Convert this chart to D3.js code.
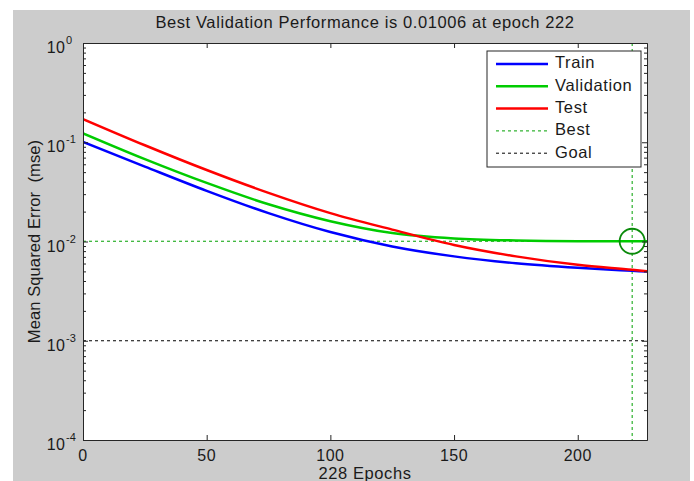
<!DOCTYPE html>
<html>
<head>
<meta charset="utf-8">
<script src="https://cdn.jsdelivr.net/npm/d3@7"></script>
<style>
  html, body { margin: 0; padding: 0; background: #fff; }
  svg { display: block; font-family: "Liberation Sans", Arial, Helvetica, sans-serif; }
</style>
</head>
<body>
<div id="chart"></div>
<script>
// ── Data ───────────────────────────────────────────────────────
const epochs     = [0, 25, 50, 75, 100, 125, 150, 175, 200, 222, 228];
const train      = [0.1009, 0.0569, 0.0324, 0.0193, 0.01245, 0.00891, 0.00708, 0.00603, 0.00543, 0.00507, 0.00498];
const validation = [0.123, 0.0676, 0.0389, 0.0237, 0.0160, 0.01216, 0.01072, 0.01023, 0.01007, 0.01006, 0.01007];
const test       = [0.1714, 0.0933, 0.0525, 0.0309, 0.0193, 0.01318, 0.00923, 0.00708, 0.00582, 0.00518, 0.00501];

const bestEpoch = 222;
const bestValue = 0.01006;
const goalValue = 0.001;

const xTicks = [0, 50, 100, 150, 200];
const yTicks = [1e-4, 1e-3, 1e-2, 1e-1, 1];

const legendItems = [
  { name: 'Train',      color: '#0000ff', dash: null,  width: 2.5 },
  { name: 'Validation', color: '#00cc00', dash: null,  width: 2.5 },
  { name: 'Test',       color: '#ff0000', dash: null,  width: 2.5 },
  { name: 'Best',       color: '#00a000', dash: '3,3', width: 1 },
  { name: 'Goal',       color: '#000000', dash: '3,3', width: 1 },
];

// ── Layout ─────────────────────────────────────────────────────
const W = 694, H = 481;
const L = 83, R = 647, T = 43, B = 440;
const TEXT = '#1a1a1a';

const svg = d3.select('#chart').append('svg')
  .attr('width', W).attr('height', H);

svg.append('rect')
  .attr('x', 13).attr('y', 10).attr('width', 677).attr('height', H - 10)
  .attr('fill', '#cccccc');

const x = d3.scaleLinear().domain([0, 228]).range([L, R]);
const y = d3.scaleLog().domain([1e-4, 1]).range([B, T]);

svg.append('rect')
  .attr('x', L).attr('y', T).attr('width', R - L).attr('height', B - T)
  .attr('fill', '#fff');

svg.append('clipPath').attr('id', 'clip')
  .append('rect').attr('x', L).attr('y', T).attr('width', R - L).attr('height', B - T);

// ── Reference lines ────────────────────────────────────────────
const plot = svg.append('g').attr('clip-path', 'url(#clip)');

plot.append('line')
  .attr('x1', x(0)).attr('x2', x(228)).attr('y1', y(goalValue)).attr('y2', y(goalValue))
  .attr('stroke', '#000').attr('stroke-width', 1).attr('stroke-dasharray', '3,3');

plot.append('line')
  .attr('x1', x(0)).attr('x2', x(228)).attr('y1', y(bestValue)).attr('y2', y(bestValue))
  .attr('stroke', '#00a000').attr('stroke-width', 1).attr('stroke-dasharray', '3,3');

plot.append('line')
  .attr('x1', x(bestEpoch)).attr('x2', x(bestEpoch)).attr('y1', T).attr('y2', B)
  .attr('stroke', '#00a000').attr('stroke-width', 1).attr('stroke-dasharray', '3,3');

// ── Curves ─────────────────────────────────────────────────────
const line = d3.line()
  .x((d, i) => x(epochs[i]))
  .y(d => y(d))
  .curve(d3.curveMonotoneX);

[[train, '#0000ff'], [validation, '#00cc00'], [test, '#ff0000']].forEach(([s, c]) => {
  plot.append('path')
    .attr('d', line(s))
    .attr('fill', 'none')
    .attr('stroke', c)
    .attr('stroke-width', 2.5);
});

svg.append('circle')
  .attr('cx', x(bestEpoch)).attr('cy', y(bestValue)).attr('r', 12.5)
  .attr('fill', 'none').attr('stroke', '#0a8a0a').attr('stroke-width', 1.8);

// ── Axes (ticks inward, MATLAB style) ─────────────────────────
const minor = [];
for (let e = -4; e < 0; e++) for (let k = 2; k < 10; k++) minor.push(k * Math.pow(10, e));

function styleAxis(g) {
  g.selectAll('text').remove();
  g.selectAll('line').attr('stroke', '#262626');
  g.select('.domain').attr('stroke', '#262626');
}

svg.append('g').attr('transform', `translate(0,${B})`)
  .call(d3.axisBottom(x).tickValues(xTicks).tickSize(-5).tickSizeOuter(0)).call(styleAxis);
svg.append('g').attr('transform', `translate(0,${T})`)
  .call(d3.axisTop(x).tickValues(xTicks).tickSize(-5).tickSizeOuter(0)).call(styleAxis);
svg.append('g').attr('transform', `translate(${L},0)`)
  .call(d3.axisLeft(y).tickValues(yTicks).tickSize(-5).tickSizeOuter(0)).call(styleAxis);
svg.append('g').attr('transform', `translate(${R},0)`)
  .call(d3.axisRight(y).tickValues(yTicks).tickSize(-5).tickSizeOuter(0)).call(styleAxis);
svg.append('g').attr('transform', `translate(${L},0)`)
  .call(d3.axisLeft(y).tickValues(minor).tickSize(-3).tickSizeOuter(0)).call(styleAxis);
svg.append('g').attr('transform', `translate(${R},0)`)
  .call(d3.axisRight(y).tickValues(minor).tickSize(-3).tickSizeOuter(0)).call(styleAxis);

// ── Tick labels ────────────────────────────────────────────────
svg.append('g').selectAll('text')
  .data(xTicks).join('text')
  .attr('x', d => x(d)).attr('y', 461)
  .attr('text-anchor', 'middle')
  .attr('font-size', '16px').attr('letter-spacing', '0.5px').attr('fill', TEXT)
  .text(d => d);

const yl = svg.append('g').selectAll('g').data(yTicks).join('g')
  .attr('transform', d => `translate(0,${y(d)})`);
yl.append('text')
  .attr('x', 65.5).attr('y', 10)
  .attr('text-anchor', 'end')
  .attr('font-size', '16px').attr('letter-spacing', '0.5px').attr('fill', TEXT)
  .text('10');
yl.append('text')
  .attr('x', 66).attr('y', 1)
  .attr('font-size', '11px').attr('fill', TEXT)
  .text(d => Math.round(Math.log10(d)));

// ── Titles ─────────────────────────────────────────────────────
svg.append('text')
  .attr('x', (L + R) / 2).attr('y', 28)
  .attr('text-anchor', 'middle')
  .attr('font-size', '16.5px').attr('letter-spacing', '0.6px').attr('fill', TEXT)
  .text('Best Validation Performance is 0.01006 at epoch 222');

svg.append('text')
  .attr('x', (L + R) / 2).attr('y', 479)
  .attr('text-anchor', 'middle')
  .attr('font-size', '16.5px').attr('letter-spacing', '0.6px').attr('fill', TEXT)
  .text('228 Epochs');

svg.append('text')
  .attr('transform', `translate(40,${(T + B) / 2}) rotate(-90)`)
  .attr('text-anchor', 'middle')
  .attr('font-size', '16.5px').attr('letter-spacing', '0.1px').attr('fill', TEXT)
  .style('white-space', 'pre')
  .text('Mean Squared Error  (mse)');

// ── Legend ─────────────────────────────────────────────────────
const legend = svg.append('g');
legend.append('rect')
  .attr('x', 487).attr('y', 51).attr('width', 154).attr('height', 116)
  .attr('fill', '#fff').attr('stroke', '#262626').attr('stroke-width', 1);

legendItems.forEach((d, i) => {
  const ly = 64 + i * 22.3;
  legend.append('line')
    .attr('x1', 496).attr('x2', 548).attr('y1', ly).attr('y2', ly)
    .attr('stroke', d.color).attr('stroke-width', d.width)
    .attr('stroke-dasharray', d.dash);
  legend.append('text')
    .attr('x', 555).attr('y', ly)
    .attr('dominant-baseline', 'middle')
    .attr('font-size', '16.5px').attr('letter-spacing', '0.6px').attr('fill', TEXT)
    .text(d.name);
});
</script>
</body>
</html>
